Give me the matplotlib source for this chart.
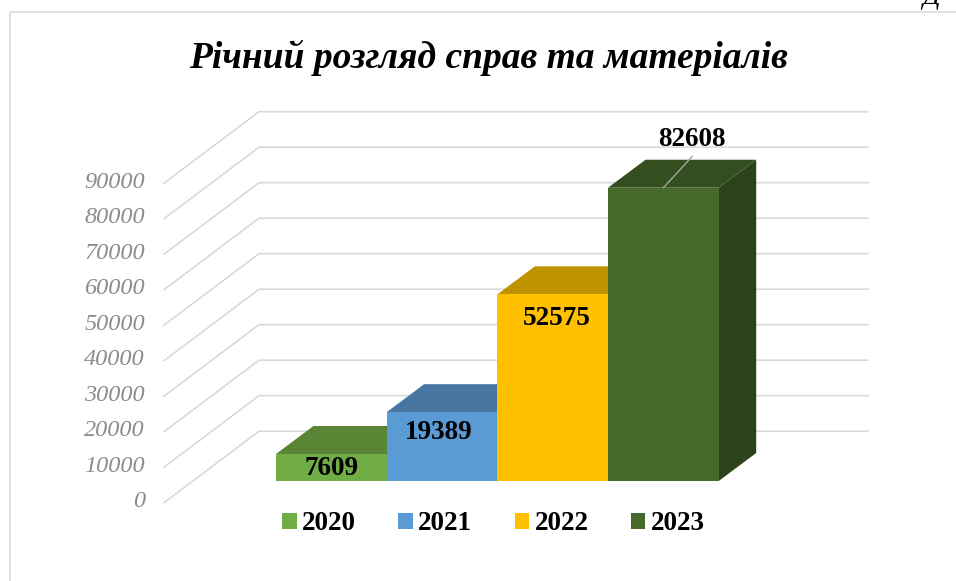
import matplotlib
matplotlib.use('Agg')
import matplotlib.pyplot as plt
from matplotlib import font_manager as fm
from matplotlib.patches import Patch, Polygon

years = ['2020', '2021', '2022', '2023']
values = [7609, 19389, 52575, 82608]
ticks = [0, 10000, 20000, 30000, 40000, 50000, 60000, 70000, 80000, 90000]
title = 'Річний розгляд справ та матеріалів'

front_colors = ['#70AD47', '#5B9BD5', '#FFC000', '#466A2B']
top_colors = ['#5A8535', '#4876A3', '#C09200', '#334F1F']
side_color = '#2B431A'
grid_color = '#D9D9D9'

W, H = 956, 581
plt.rcParams['font.family'] = 'Liberation Serif'

# point at the italic font files directly
italic_path = fm.findfont(fm.FontProperties(family='Liberation Serif', style='italic'))
bold_italic_path = fm.findfont(fm.FontProperties(family='Liberation Serif', style='italic', weight='bold'))
italic = fm.FontProperties(fname=italic_path, size=17.5)
bold_italic = fm.FontProperties(fname=bold_italic_path, size=27)

fig = plt.figure(figsize=(W / 100, H / 100), dpi=100)
# axes = plane of the bar fronts, in pixels from the reference
left, right, bottom, top = 276, 718.7, 481, 161.5
ax = fig.add_axes([left / W, 1 - bottom / H, (right - left) / W, (bottom - top) / H])
ax.set_xlim(-0.5, 3.5)
ax.set_ylim(0, 90000)
ax.axis('off')

# unit conversion for the fake 3d depth
px_x = 4 / (right - left)
px_y = 90000 / (bottom - top)
depth_x = 37.5 * px_x
depth_y = 28 * px_y

# walls
wall_front_x = -0.5 - 112 * px_x
wall_back_x = -0.5 - 17 * px_x
wall_end_x = -0.5 + 592 * px_x
wall_front_dy = -21.7 * px_y
wall_back_dy = 49.8 * px_y
for t in ticks:
    ax.plot([wall_front_x, wall_back_x, wall_end_x],
            [t + wall_front_dy, t + wall_back_dy, t + wall_back_dy],
            color=grid_color, lw=1.2, zorder=1, clip_on=False)
    ax.text(wall_front_x - 19 * px_x, t + wall_front_dy + 1 * px_y, str(t), color='#8C8C8C',
            fontproperties=italic, ha='right', va='center', clip_on=False)

# bars, left to right so each one covers the sides of the one before
for i, v in enumerate(values):
    x0, x1 = i - 0.5, i + 0.5
    ax.add_patch(Polygon([(x0, v), (x0 + depth_x, v + depth_y), (x1 + depth_x, v + depth_y), (x1, v)],
                         fc=top_colors[i], ec='none', zorder=2 + i, clip_on=False))
    ax.add_patch(Polygon([(x1, 0), (x1 + depth_x, depth_y), (x1 + depth_x, v + depth_y), (x1, v)],
                         fc=side_color, ec='none', zorder=2 + i, clip_on=False))
    ax.bar(i, v, width=1, color=front_colors[i], zorder=2.5 + i, clip_on=False)

# data labels
label_offsets = [(0, -14.5), (-3, -20), (4.5, -24), (29, 48.5)]
for i, v in enumerate(values):
    ax.annotate(str(v), xy=(i, v), xytext=label_offsets[i], textcoords='offset pixels',
                ha='center', va='center', fontsize=19.5, fontweight='bold', color='black',
                zorder=10, annotation_clip=False)
ax.annotate('', xy=(3, values[3]), xytext=(29, 31.5), textcoords='offset pixels',
            arrowprops=dict(arrowstyle='-', color='#A6A6A6', lw=1, shrinkA=0, shrinkB=0),
            zorder=9, annotation_clip=False)

handles = [Patch(fc=c, ec='none') for c in front_colors]
fig.legend(handles, years, ncols=4, loc='center', bbox_to_anchor=(493.5 / W, 1 - 524 / H),
           frameon=False, handlelength=0.53, handleheight=0.53, handletextpad=0.2,
           columnspacing=1.57, prop=dict(size=19.5, weight='bold', family='Liberation Serif'))

fig.text(488.5 / W, 1 - 58 / H, title, ha='center', va='center', color='black',
         fontproperties=bold_italic)

# chart frame (only left and top are visible)
fig.add_artist(plt.Line2D([9.5 / W, 9.5 / W, 1], [0, 1 - 12 / H, 1 - 12 / H], color='#D9D9D9', lw=1.1))
# clipped letter from the page above the chart
fig.text(931 / W, 1 - 4 / H, 'Д', ha='center', va='baseline', color='black',
         fontproperties=fm.FontProperties(fname=italic_path, size=20))

fig.savefig('out.png', dpi=100)
